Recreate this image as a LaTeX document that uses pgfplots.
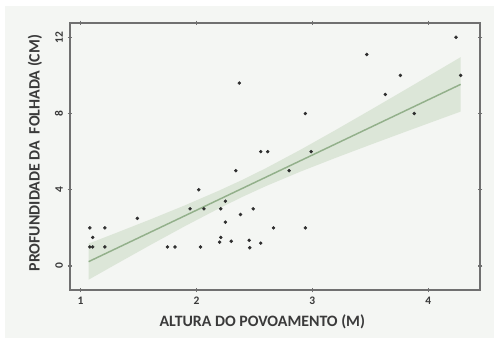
\documentclass[border=0pt]{standalone}
\usepackage{fontspec}
\setmainfont{Carlito}
\usepackage{pgfplots}
\pgfplotsset{compat=1.18}
\usepackage{pgfplotstable}

\definecolor{panel}{HTML}{F4F6F3}
\definecolor{bandfill}{HTML}{DCE6D8}
\definecolor{fitline}{HTML}{93B08B}
\definecolor{dots}{HTML}{2E2E2E}
\definecolor{axisgray}{HTML}{707070}
\definecolor{labelgray}{HTML}{3A3A3A}

% stand height (m) vs litter depth (cm)
\pgfplotstableread{
x y
1.08 2.0
1.08 1.0
1.105 1.0
1.105 1.5
1.21 2.0
1.21 1.0
1.49 2.5
1.75 1.0
1.815 1.0
1.945 3.0
2.02 4.0
2.035 1.0
2.065 3.0
2.20 1.25
2.21 1.5
2.21 3.0
2.25 3.4
2.25 2.3
2.30 1.3
2.34 5.0
2.37 9.6
2.38 2.7
2.455 1.35
2.46 0.96
2.49 3.0
2.555 1.2
2.555 6.0
2.615 6.0
2.665 2.0
2.80 5.0
2.94 2.0
2.94 8.0
2.99 6.0
3.47 11.1
3.63 9.0
3.76 10.0
3.88 8.0
4.24 12.0
4.28 10.0
}\obs

% linear fit
\pgfplotstableread{
x fit
1.07 0.230
4.28 9.530
}\fit

\begin{document}
\begin{tikzpicture}
\fill[white] (0,0) rectangle (374.25pt,257.25pt);
\fill[panel] (3.75pt,3.75pt) rectangle (370.5pt,252.75pt);
\begin{axis}[
  at={(52.5pt,39.75pt)}, anchor=south west,
  scale only axis, width=307.5pt, height=200.25pt,
  xmin=0.909, xmax=4.447, ymin=-1.26, ymax=12.75,
  xtick={1,2,3,4}, ytick={0,4,8,12},
  axis line style={axisgray, line width=0.9pt},
  tick style={axisgray, line width=0.8pt},
  tick align=center, major tick length=3.5pt,
  /pgf/number format/assume math mode=true,
  ticklabel style={font=\fontsize{8.6}{10}\selectfont\bfseries, text=labelgray},
  yticklabel style={rotate=90, anchor=south},
  xlabel={ALTURA DO POVOAMENTO (M)},
  ylabel={PROFUNDIDADE DA\ \ FOLHADA (CM)},
  label style={font=\fontsize{11.9}{14}\selectfont\bfseries, text=labelgray},
  xlabel style={at={(axis description cs:0.5,0)}, anchor=center, xshift=-9.5pt, yshift=-23.8pt},
  ylabel style={at={(axis description cs:0,0.5)}, anchor=center, xshift=2.6pt, yshift=26.25pt},
]
% confidence band: upper edge left to right, lower edge right to left
\addplot[fill=bandfill, draw=none] coordinates {
  (1.07,1.177) (1.30,1.719) (1.60,2.437) (1.90,3.181) (2.20,3.969)
  (2.40,4.530) (2.60,5.133) (2.90,6.106) (3.20,7.131) (3.50,8.181)
  (3.80,9.243) (4.10,10.313) (4.28,10.958)
  (4.28,8.102) (4.10,7.703) (3.80,7.035) (3.50,6.359) (3.20,5.671)
  (2.90,4.958) (2.60,4.193) (2.40,3.636) (2.20,3.039) (1.90,2.089)
  (1.60,1.093) (1.30,0.073) (1.07,-0.717)
} -- cycle;
\addplot[fitline, line width=1.1pt, no marks] table[x=x, y=fit] {\fit};
\addplot[only marks, mark=*, mark size=1.1pt, dots, mark options={draw=dots, fill=dots}] table[x=x, y=y] {\obs};
\end{axis}
\pgfresetboundingbox
\path (0,0) rectangle (374.25pt,257.25pt);
\end{tikzpicture}
\end{document}
